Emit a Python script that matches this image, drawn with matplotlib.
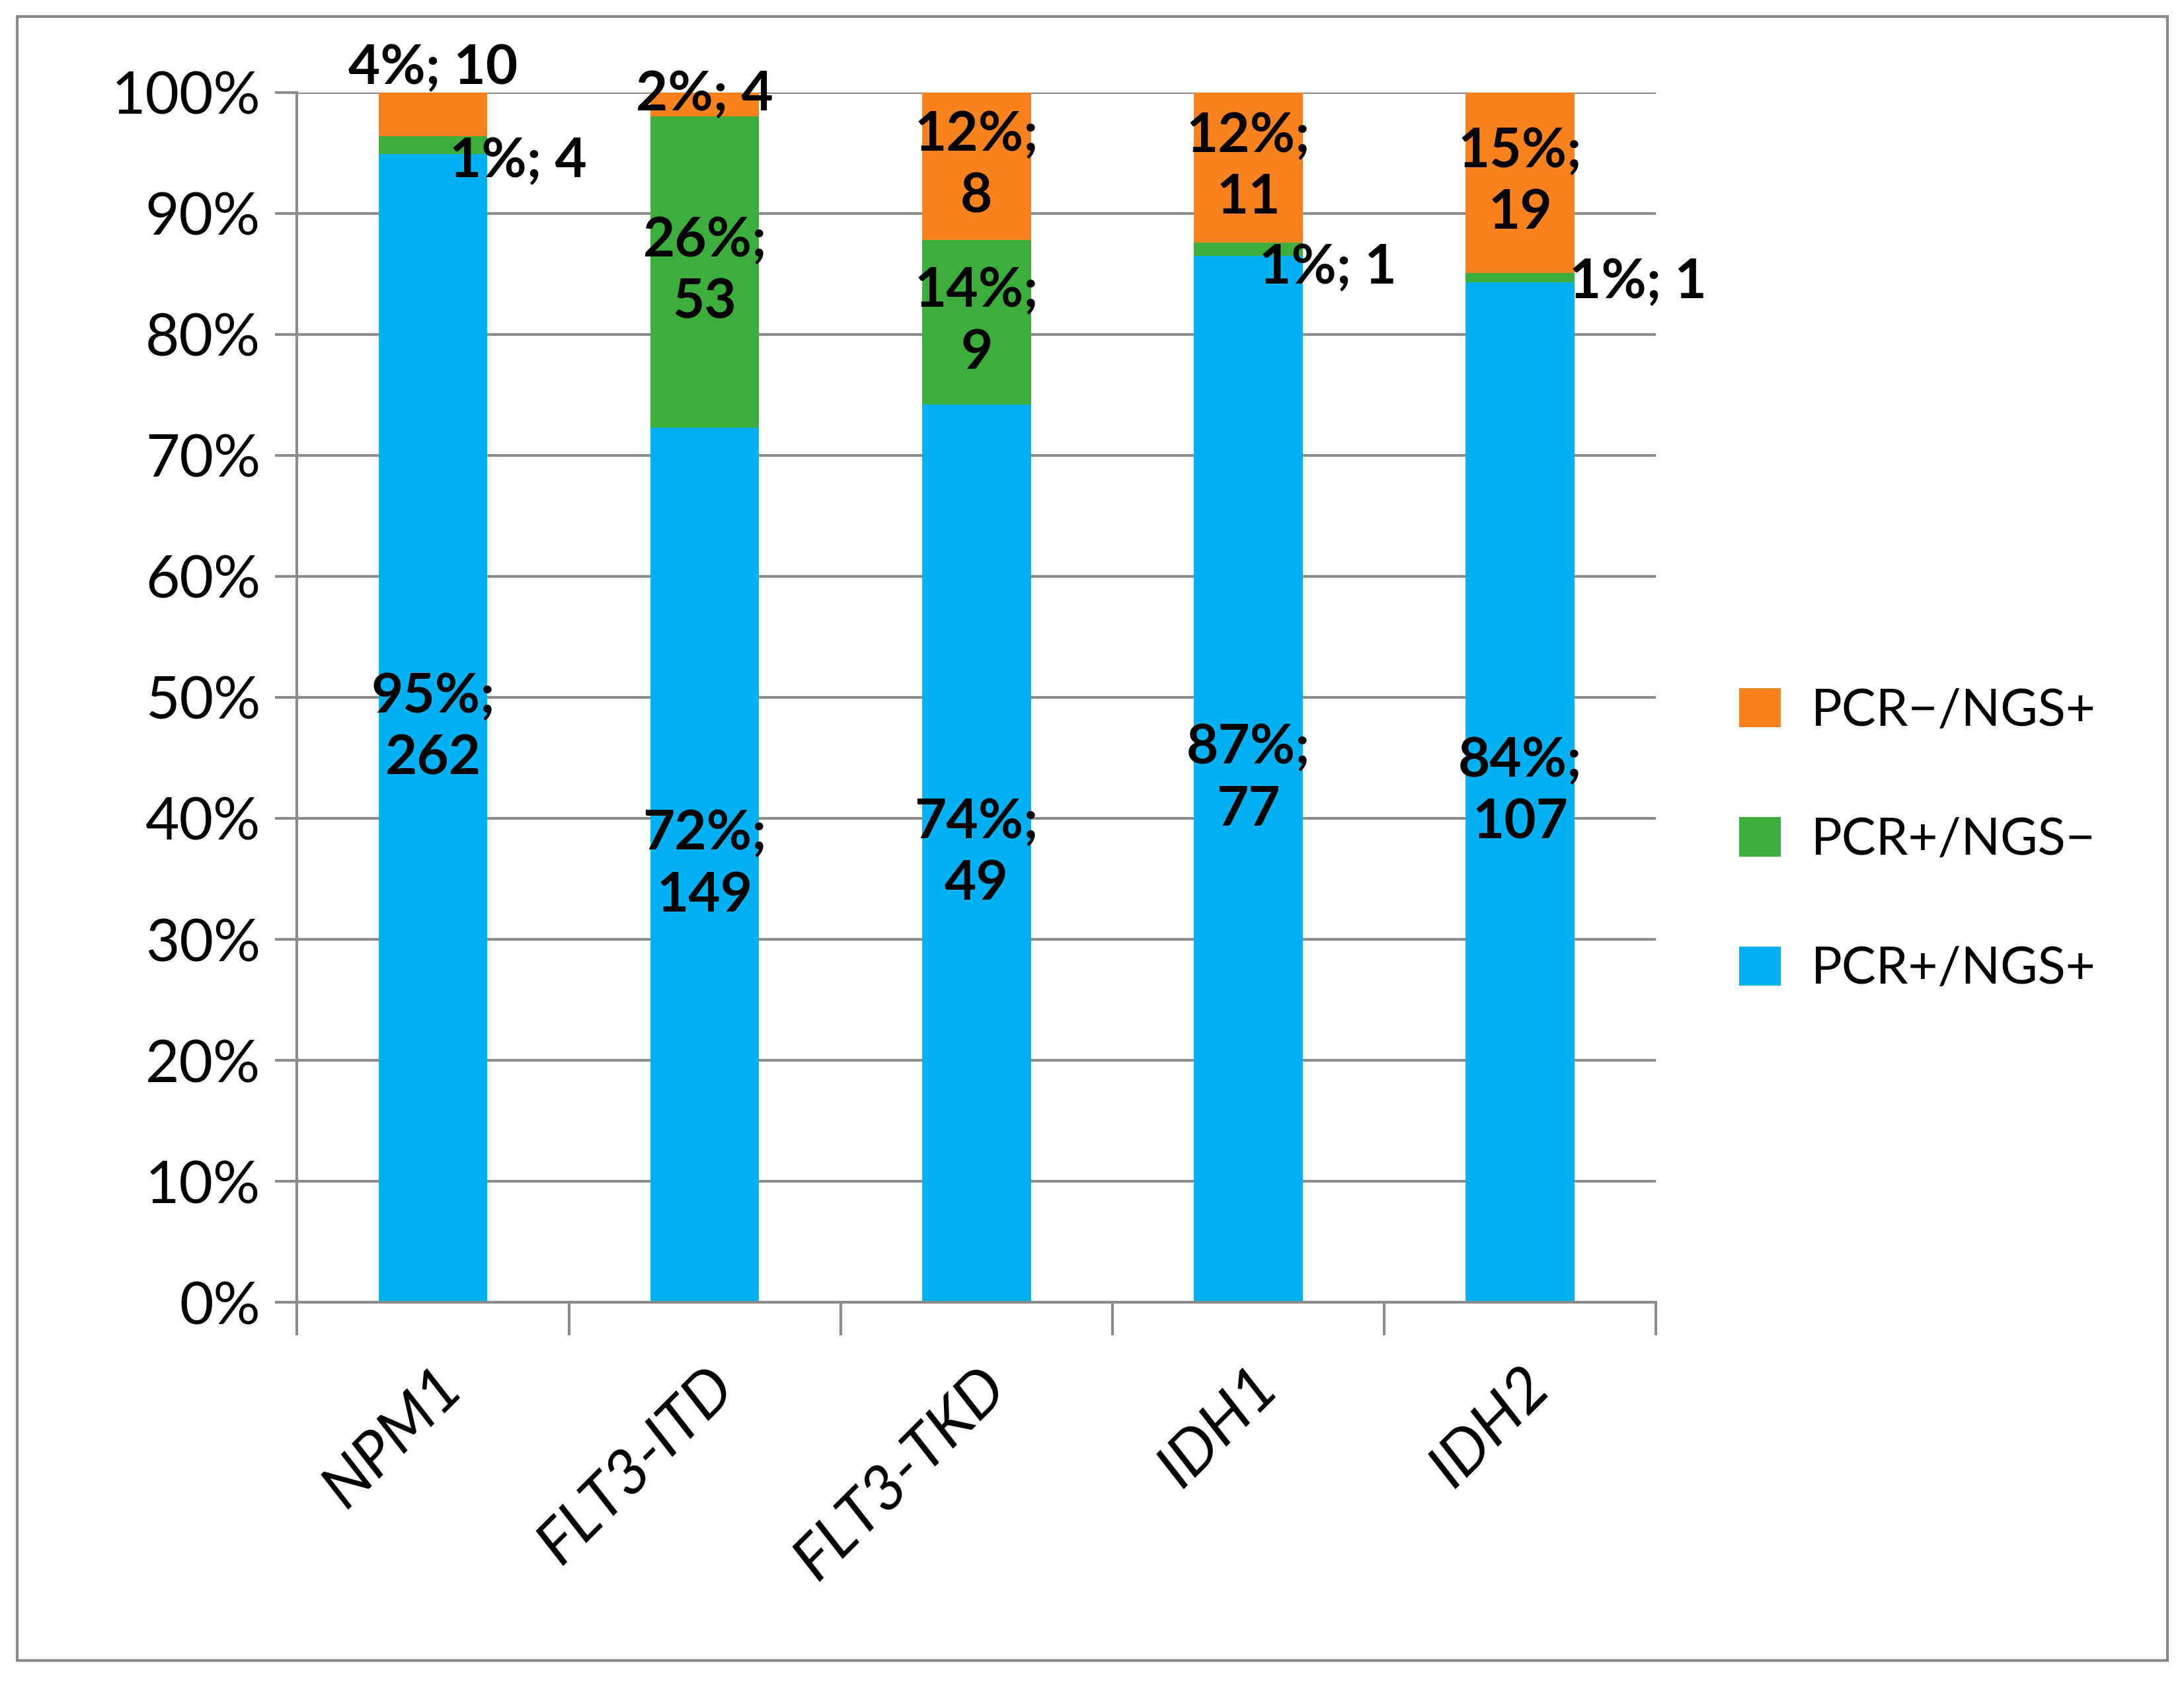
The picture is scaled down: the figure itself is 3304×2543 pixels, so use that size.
import matplotlib.pyplot as plt
from matplotlib.patches import Rectangle

genes = ["NPM1", "FLT3-ITD", "FLT3-TKD", "IDH1", "IDH2"]
series = ["PCR+/NGS+", "PCR+/NGS\u2212", "PCR\u2212/NGS+"]
colors = ["#00B0F0", "#3DAE3D", "#F7821F"]

# shares in % and case counts per gene
pct_both = [94.9, 72.3, 74.2, 86.5, 84.3]
pct_pcr_only = [1.5, 25.7, 13.6, 1.1, 0.8]
pct_ngs_only = [3.6, 2.0, 12.2, 12.4, 14.9]
n_both = [262, 149, 49, 77, 107]
n_pcr_only = [4, 53, 9, 1, 1]
n_ngs_only = [10, 4, 8, 11, 19]
lab_both = ["95%", "72%", "74%", "87%", "84%"]
lab_pcr_only = ["1%", "26%", "14%", "1%", "1%"]
lab_ngs_only = ["4%", "2%", "12%", "12%", "15%"]

plt.rcParams["font.family"] = ["Lato", "DejaVu Sans"]

fig = plt.figure(figsize=(16.525, 12.715), dpi=200)
ax = fig.add_axes([0.136, 0.2253, 0.622, 0.7197])
fig.patches.append(Rectangle((0.008, 0.012), 0.984, 0.978, transform=fig.transFigure,
                             fill=False, edgecolor="#888888", lw=1.5))

x = list(range(len(genes)))
w = 0.4
bottoms2 = pct_both
bottoms3 = [a + b for a, b in zip(pct_both, pct_pcr_only)]
b1 = ax.bar(x, pct_both, w, color=colors[0], label=series[0], zorder=2)
b2 = ax.bar(x, pct_pcr_only, w, bottom=bottoms2, color=colors[1], label=series[1], zorder=2)
b3 = ax.bar(x, pct_ngs_only, w, bottom=bottoms3, color=colors[2], label=series[2], zorder=2)

lf = dict(fontsize=30, fontweight="bold", color="black", zorder=3, linespacing=1.3)
for i in x:
    ax.text(i, pct_both[i] / 2, f"{lab_both[i]};\n{n_both[i]}", ha="center", va="center", **lf)
    # green segment
    if pct_pcr_only[i] > 5:
        ax.text(i, bottoms2[i] + pct_pcr_only[i] / 2, f"{lab_pcr_only[i]};\n{n_pcr_only[i]}",
                ha="center", va="center", **lf)
    # orange segment
    if pct_ngs_only[i] > 5:
        ax.text(i, bottoms3[i] + pct_ngs_only[i] / 2, f"{lab_ngs_only[i]};\n{n_ngs_only[i]}",
                ha="center", va="center", **lf)

# small labels placed beside/above the bars
ax.text(0, 102.0, f"{lab_ngs_only[0]}; {n_ngs_only[0]}", ha="center", va="center", **lf)
ax.text(0.06, 94.3, f"{lab_pcr_only[0]}; {n_pcr_only[0]}", ha="left", va="center", **lf)
ax.text(1, 99.8, f"{lab_ngs_only[1]}; {n_ngs_only[1]}", ha="center", va="center", **lf)
ax.text(3.04, 85.5, f"{lab_pcr_only[3]}; {n_pcr_only[3]}", ha="left", va="center", **lf)
ax.text(4.18, 84.3, f"{lab_pcr_only[4]}; {n_pcr_only[4]}", ha="left", va="center", **lf)

ax.set_xlim(-0.5, 4.5)
ax.set_ylim(0, 100)
ax.set_yticks(range(0, 101, 10))
ax.set_yticklabels([f"{v}%" for v in range(0, 101, 10)], fontsize=32)
ax.yaxis.grid(True, color="#8c8c8c", lw=1.5, zorder=0)
ax.set_xticks(x)
ax.set_xticklabels(genes, fontsize=34, style="italic", rotation=45, ha="right",
                   rotation_mode="anchor")
ax.set_xticks([i + 0.5 for i in range(-1, 5)], minor=True)
ax.tick_params(axis="x", which="major", length=0, pad=30)
ax.tick_params(axis="x", which="minor", length=18, width=1.5, color="#8c8c8c")
ax.tick_params(axis="y", length=12, width=1.5, color="#8c8c8c", pad=8)
for s in ["top", "right"]:
    ax.spines[s].set_visible(False)
for s in ["left", "bottom"]:
    ax.spines[s].set_color("#8c8c8c")
    ax.spines[s].set_linewidth(1.5)

h, l = ax.get_legend_handles_labels()
fig.legend(h[::-1], l[::-1], loc="center left", bbox_to_anchor=(0.775, 0.5),
           fontsize=28, frameon=False, handlelength=0.8, handleheight=0.8,
           labelspacing=1.6, handletextpad=0.6)

fig.savefig("out.png", dpi=200)
